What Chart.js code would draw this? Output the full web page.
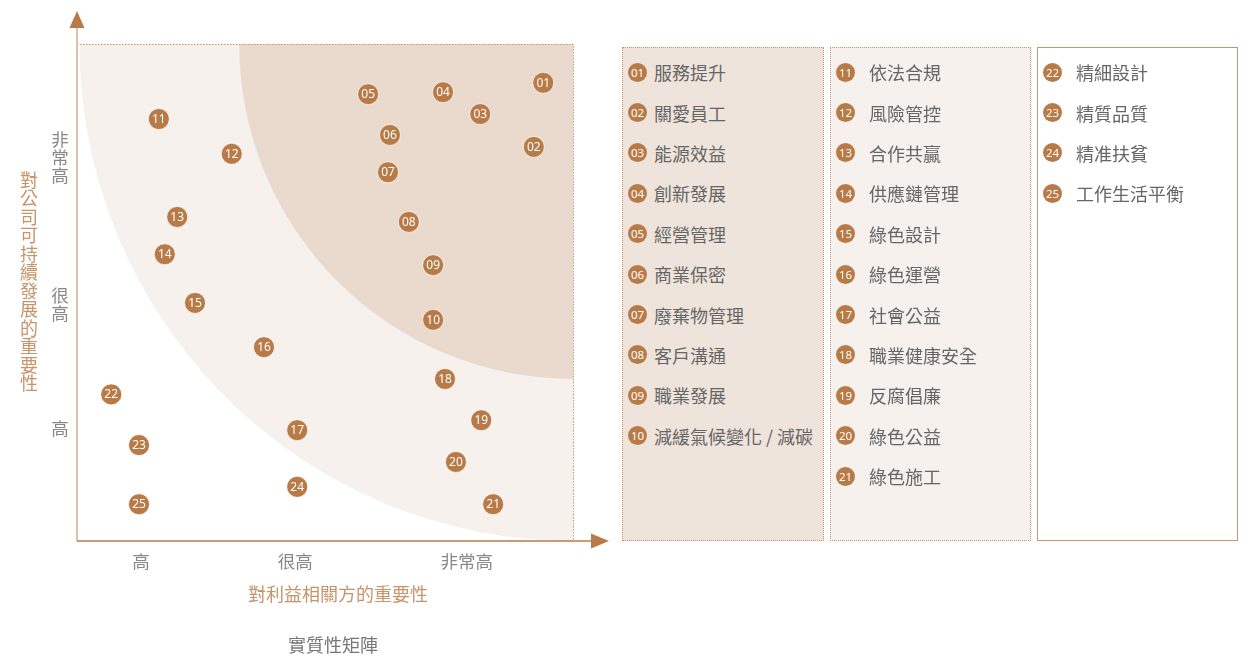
<!DOCTYPE html>
<html>
<head>
<meta charset="utf-8">
<script src="https://cdn.jsdelivr.net/npm/chart.js@4/dist/chart.umd.min.js"></script>
<style>
body { margin: 0; background: #fff; font-family: "Noto Sans CJK TC", "Noto Sans", sans-serif; }
#wrap { position: relative; width: 1248px; height: 658px; }
#matrix { position: absolute; left: 0; top: 0; }
.box { position: absolute; top: 47px; height: 494px; box-sizing: border-box; padding-top: 4px; }
.row { height: 40.4px; display: flex; align-items: center; font-size: 18px; color: #666; white-space: nowrap; }
.num { width: 19px; height: 19px; border-radius: 50%; background: #b87a46; color: #fff; font-size: 11.5px;
  display: flex; align-items: center; justify-content: center; font-family: "Noto Sans", sans-serif; flex: none; }
</style>
</head>
<body>
<div id="wrap">
  <canvas id="matrix" width="1248" height="658"></canvas>
  <div class="box" id="box1" style="left:622px;width:202px;background:#efe4db;border:1px dotted #c9956b;"></div>
  <div class="box" id="box2" style="left:830px;width:201px;background:#f6f1ed;border:1px dotted #c9956b;"></div>
  <div class="box" id="box3" style="left:1037px;width:201px;background:#fff;border:1px solid #c9956b;"></div>
</div>
<script>
// topics, numbered 01..25
const topics = ['服務提升', '關愛員工', '能源效益', '創新發展', '經營管理', '商業保密', '廢棄物管理', '客戶溝通',
  '職業發展', '減緩氣候變化 / 減碳', '依法合規', '風險管控', '合作共贏', '供應鏈管理', '綠色設計', '綠色運營',
  '社會公益', '職業健康安全', '反腐倡廉', '綠色公益', '綠色施工', '精細設計', '精質品質', '精准扶貧', '工作生活平衡'];
// importance to stakeholders (x) and to the company (y), 0-100
const xValues = [94, 92.1, 81.3, 73.8, 58.7, 63.1, 62.7, 66.9, 71.8, 71.8, 16.5, 31.2, 20.2, 17.7, 23.8, 37.7,
  44.4, 74.2, 81.5, 76.4, 83.9, 6.9, 12.5, 44.4, 12.5];
const yValues = [92.2, 79.3, 85.9, 90.3, 89.9, 81.7, 74.2, 64.2, 55.5, 44.5, 84.9, 77.9, 65.2, 57.7, 47.9, 39.0,
  22.3, 32.6, 24.3, 15.9, 7.4, 29.5, 19.3, 10.9, 7.4];
const xTickValues = [12.9, 44, 78.6];
const xTickLabels = ['高', '很高', '非常高'];
const yTickValues = [22.7, 47.7, 77.2];
const yTickLabels = ['高', '很高', '非常高'];
const xTitle = '對利益相關方的重要性';
const yTitle = '對公司可持續發展的重要性';
const chartTitle = '實質性矩陣';

const numLabel = i => String(i + 1).padStart(2, '0');
const FONT = '"Noto Sans CJK TC", "Noto Sans", sans-serif';

// legend boxes: first index, end index, box id, gap between circle and text
const groups = [[0, 10, 'box1', 7], [10, 21, 'box2', 14], [21, 25, 'box3', 14]];
for (const [from, to, id, gap] of groups) {
  const box = document.getElementById(id);
  for (let i = from; i < to; i++) {
    const row = document.createElement('div');
    row.className = 'row';
    row.style.paddingLeft = '5px';
    row.innerHTML = '<span class="num">' + numLabel(i) + '</span><span style="margin-left:' + gap + 'px">' + topics[i] + '</span>';
    box.appendChild(row);
  }
}

const matrixPlugin = {
  id: 'matrix',
  beforeDatasetsDraw(chart) {
    const { ctx, chartArea: a, scales: { x, y } } = chart;
    const cx = x.getPixelForValue(100), cy = y.getPixelForValue(100);
    const ux = (x.getPixelForValue(100) - x.getPixelForValue(0)) / 100;
    const uy = (y.getPixelForValue(0) - y.getPixelForValue(100)) / 100;
    ctx.save();
    ctx.beginPath();
    ctx.rect(a.left, a.top, a.right - a.left, a.bottom - a.top);
    ctx.clip();
    ctx.fillStyle = '#f6f1ed';
    ctx.beginPath();
    ctx.ellipse(cx, cy, 99.5 * ux, 100 * uy, 0, 0, Math.PI * 2);
    ctx.fill();
    ctx.fillStyle = '#e9dacd';
    ctx.beginPath();
    ctx.ellipse(cx, cy, 67.3 * ux, 67.4 * uy, 0, 0, Math.PI * 2);
    ctx.fill();
    ctx.restore();

    ctx.save();
    // dotted frame top and right
    ctx.strokeStyle = '#c9956b';
    ctx.lineWidth = 1;
    ctx.setLineDash([1.5, 1.5]);
    ctx.beginPath();
    ctx.moveTo(a.left, a.top + 0.5);
    ctx.lineTo(a.right + 0.5, a.top + 0.5);
    ctx.lineTo(a.right + 0.5, a.bottom);
    ctx.stroke();
    ctx.setLineDash([]);
    // y axis
    ctx.strokeStyle = '#dcc2a8';
    ctx.lineWidth = 2;
    ctx.beginPath();
    ctx.moveTo(a.left, a.bottom);
    ctx.lineTo(a.left, 26);
    ctx.stroke();
    // x axis
    ctx.strokeStyle = '#b87a48';
    ctx.lineWidth = 1.5;
    ctx.beginPath();
    ctx.moveTo(a.left, a.bottom);
    ctx.lineTo(592, a.bottom);
    ctx.stroke();
    // arrows
    ctx.fillStyle = '#b87a48';
    ctx.beginPath();
    ctx.moveTo(a.left, 11);
    ctx.lineTo(a.left + 7.5, 28);
    ctx.lineTo(a.left - 7.5, 28);
    ctx.closePath();
    ctx.fill();
    ctx.beginPath();
    ctx.moveTo(609, a.bottom);
    ctx.lineTo(591, a.bottom - 7.5);
    ctx.lineTo(591, a.bottom + 7.5);
    ctx.closePath();
    ctx.fill();

    // tick labels
    ctx.fillStyle = '#888';
    ctx.font = '17.5px ' + FONT;
    ctx.textAlign = 'center';
    ctx.textBaseline = 'middle';
    xTickValues.forEach((v, i) => ctx.fillText(xTickLabels[i], x.getPixelForValue(v), 561));
    yTickValues.forEach((v, i) => {
      const chars = [...yTickLabels[i]];
      const mid = y.getPixelForValue(v);
      chars.forEach((c, j) => ctx.fillText(c, 60, mid + (j - (chars.length - 1) / 2) * 18));
    });
    // axis titles
    ctx.font = '18px ' + FONT;
    ctx.fillStyle = '#c8946a';
    ctx.fillText(xTitle, 338, 594);
    [...yTitle].forEach((c, j) => ctx.fillText(c, 29, 180 + j * 18.5));
    ctx.fillStyle = '#777';
    ctx.fillText(chartTitle, 333, 645);
    ctx.restore();
  },
  afterDatasetsDraw(chart) {
    const { ctx } = chart;
    const meta = chart.getDatasetMeta(0);
    ctx.save();
    ctx.fillStyle = '#fff';
    ctx.font = '12px "Noto Sans", sans-serif';
    ctx.textAlign = 'center';
    ctx.textBaseline = 'middle';
    meta.data.forEach((pt, i) => ctx.fillText(numLabel(i), pt.x, pt.y + 0.5));
    ctx.restore();
  }
};

new Chart(document.getElementById('matrix'), {
  type: 'scatter',
  data: {
    datasets: [{
      data: xValues.map((v, i) => ({ x: v, y: yValues[i] })),
      backgroundColor: '#b87a46',
      borderColor: 'rgba(255,255,255,0.7)',
      borderWidth: 1,
      pointRadius: 10.5,
      pointHoverRadius: 10.5
    }]
  },
  options: {
    responsive: false,
    animation: false,
    events: [],
    layout: { padding: { left: 77, top: 44, right: 675, bottom: 117 } },
    plugins: { legend: { display: false }, tooltip: { enabled: false } },
    scales: {
      x: { type: 'linear', min: 0, max: 100, display: false },
      y: { type: 'linear', min: 0, max: 100, display: false }
    }
  },
  plugins: [matrixPlugin]
});
</script>
</body>
</html>
